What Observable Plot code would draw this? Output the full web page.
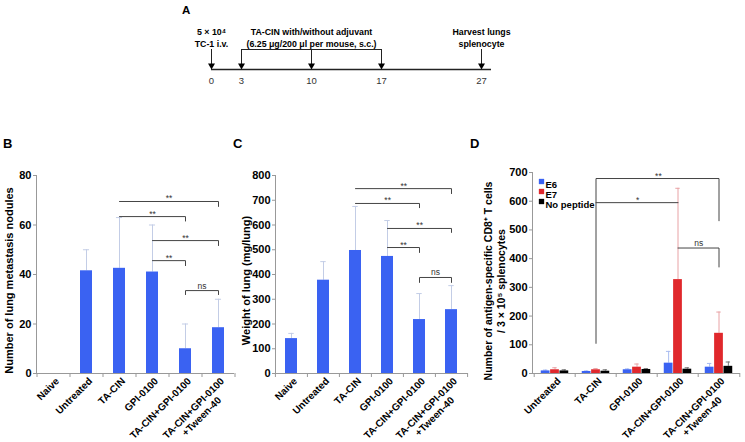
<!DOCTYPE html>
<html><head><meta charset="utf-8">
<script src="https://cdn.jsdelivr.net/npm/d3@7"></script>
<script src="https://cdn.jsdelivr.net/npm/@observablehq/plot@0.6"></script>
<style>
body{margin:0;background:#fff;}
#fig{position:relative;width:745px;height:442px;overflow:hidden;background:#fff;font-family:"Liberation Sans",Arial,Helvetica,sans-serif;}
.letter{position:absolute;font-weight:bold;font-size:13px;line-height:1;color:#000;}
</style></head><body><div id="fig"></div>
<script>
// ---------- Panel A: timeline ----------
const timelineDays = [0, 3, 10, 17, 27];
const timelineEnd = 28;
const injectionStart = 3, injectionEnd = 17;
const eventDays = [0, 10, 27];
const eventLabels = ["5 × 10⁴\nTC-1 i.v.", "TA-CIN with/without adjuvant\n(6.25 μg/200 μl per mouse, s.c.)", "Harvest lungs\nsplenocyte"];

// ---------- Panels B, C ----------
const groupsBC = ["Naive", "Untreated", "TA-CIN", "GPI-0100", "TA-CIN+GPI-0100", "TA-CIN+GPI-0100\n+Tween-40"];
const nodulesMean = [0, 41.5, 42.5, 41, 10, 18.5];
const nodulesSD = [0, 8.5, 20.5, 19, 10, 11.5];
const weightMean = [141, 377, 497, 473, 218, 258];
const weightSD = [21, 75, 178, 145, 105, 97];
const nodulesTicks = [0, 20, 40, 60, 80];
const weightTicks = [0, 100, 200, 300, 400, 500, 600, 700, 800];

const bracketsB = [
  {from: "TA-CIN", to: "TA-CIN+GPI-0100\n+Tween-40", y: 69.5, fromEnd: null, toEnd: 67.5, label: "**"},
  {from: "TA-CIN", to: "TA-CIN+GPI-0100", y: 63.4, fromEnd: null, toEnd: 61.6, label: "**"},
  {from: "GPI-0100", to: "TA-CIN+GPI-0100\n+Tween-40", y: 53.7, fromEnd: null, toEnd: 51.7, label: "**"},
  {from: "GPI-0100", to: "TA-CIN+GPI-0100", y: 45.6, fromEnd: null, toEnd: 43.6, label: "**"},
  {from: "TA-CIN+GPI-0100", to: "TA-CIN+GPI-0100\n+Tween-40", y: 33.5, fromEnd: 31.9, toEnd: 31.9, label: "ns"}
];
const bracketsC = [
  {from: "TA-CIN", to: "TA-CIN+GPI-0100\n+Tween-40", y: 747, fromEnd: null, toEnd: 727, label: "**"},
  {from: "TA-CIN", to: "TA-CIN+GPI-0100", y: 687, fromEnd: null, toEnd: 670, label: "**"},
  {from: "GPI-0100", to: "TA-CIN+GPI-0100\n+Tween-40", y: 586, fromEnd: null, toEnd: 570, label: "**"},
  {from: "GPI-0100", to: "TA-CIN+GPI-0100", y: 509, fromEnd: null, toEnd: 489, label: "**"},
  {from: "TA-CIN+GPI-0100", to: "TA-CIN+GPI-0100\n+Tween-40", y: 388, fromEnd: 368, toEnd: 368, label: "ns"}
];

// ---------- Panel D ----------
const groupsD = ["Untreated", "TA-CIN", "GPI-0100", "TA-CIN+GPI-0100", "TA-CIN+GPI-0100\n+Tween-40"];
const seriesD = ["E6", "E7", "No peptide"];
const e6Mean = [9, 7, 13, 36, 22];
const e6SD = [3, 2, 3, 41, 13];
const e7Mean = [13, 13, 22, 327, 140];
const e7SD = [7, 4, 11, 318, 74];
const noPeptideMean = [9, 8, 14, 15, 25];
const noPeptideSD = [4, 5, 3, 5, 15];
const cellTicks = [0, 100, 200, 300, 400, 500, 600, 700];
const bracketsD = [
  {from: "TA-CIN", to: "TA-CIN+GPI-0100\n+Tween-40", y: 679, fromEnd: 105, toEnd: 532, label: "**"},
  {from: "TA-CIN", to: "TA-CIN+GPI-0100", y: 595, fromEnd: null, toEnd: null, label: "*"},
  {from: "TA-CIN+GPI-0100", to: "TA-CIN+GPI-0100\n+Tween-40", y: 437, fromEnd: null, toEnd: 371, label: "ns"}
];

// ---------- styling ----------
const blue = "#3a62f2", red = "#e0282c", black = "#000000";
const seriesColors = [blue, red, black];
const errColorsD = ["#a9bcf0", "#e8a2a5", "#777777"];
const errColorBC = "#c3cde6";
const axisGray = "#999";
const font = "'Liberation Sans', Arial, Helvetica, sans-serif";
const baseStyle = {fontFamily: font, fontSize: "10px", background: "transparent", overflow: "visible", color: "#000"};
const tickFont = 10;

const fig = document.getElementById("fig");
function place(el, left, top) {
  el.style.position = "absolute"; el.style.left = left + "px"; el.style.top = top + "px";
  fig.appendChild(el);
}
function letter(t, left, top, size) {
  const d = document.createElement("div");
  d.className = "letter"; d.textContent = t; d.style.left = left + "px"; d.style.top = top + "px";
  if (size) d.style.fontSize = size + "px";
  fig.appendChild(d);
}
const measureCtx = document.createElement("canvas").getContext("2d");
function textWidth(s, size) {
  measureCtx.font = `bold ${size}px 'Liberation Sans', Arial, sans-serif`;
  return measureCtx.measureText(s).width;
}
function bracketPoints(brackets) {
  return brackets.flatMap((b, k) => {
    const pts = [];
    if (b.fromEnd != null) pts.push({id: k, x: b.from, y: b.fromEnd});
    pts.push({id: k, x: b.from, y: b.y}, {id: k, x: b.to, y: b.y});
    if (b.toEnd != null) pts.push({id: k, x: b.to, y: b.toEnd});
    return pts;
  });
}
function bracketMarks(brackets, groups, step) {
  const idx = g => groups.indexOf(g);
  return [
    Plot.line(bracketPoints(brackets), {x: "x", y: "y", z: "id", stroke: "#444", strokeWidth: 1}),
    ...brackets.map(b => Plot.text([b], {x: "from", y: "y", text: "label",
      dx: (idx(b.to) - idx(b.from)) * step / 2, lineAnchor: "bottom", dy: b.label === "ns" ? -2 : 0,
      fontSize: 8.5, fontWeight: "normal", fill: "#333"}))
  ];
}
function axisFrameMarks(groups, step) {
  return [
    Plot.ruleY([0], {stroke: axisGray}),
    Plot.frame({anchor: "left", stroke: axisGray}),
    Plot.ruleX(groups, {x: d => d, y1: 0, y2: 0, insetBottom: -4, dx: -step / 2, stroke: axisGray}),
    Plot.ruleX([groups[groups.length - 1]], {x: d => d, y1: 0, y2: 0, insetBottom: -4, dx: step / 2, stroke: axisGray})
  ];
}
// rotated category labels; a second line is centred under the first, as in the figure
function categoryLabelMarks(groups) {
  const c = Math.SQRT1_2, lh = tickFont * 1.15;
  const first = groups.map(g => ({g, t: g.split("\n")[0]}));
  const second = groups.filter(g => g.includes("\n")).map(g => ({g, t: g.split("\n")[1], w1: textWidth(g.split("\n")[0], tickFont)}));
  return [
    Plot.text(first, {x: "g", text: "t", frameAnchor: "bottom", rotate: -45, textAnchor: "end", lineAnchor: "middle",
      dx: 4, dy: 6, fontSize: tickFont, fontWeight: "bold"}),
    ...second.map(s => Plot.text([s], {x: "g", text: "t", frameAnchor: "bottom", rotate: -45, textAnchor: "middle", lineAnchor: "middle",
      dx: 4 - (s.w1 / 2) * c + lh * c, dy: 6 + (s.w1 / 2) * c + lh * c, fontSize: tickFont, fontWeight: "bold"}))
  ];
}

// ---------- Panel A ----------
const plotA = Plot.plot({
  width: 345, height: 95, marginLeft: 41, marginRight: 24, marginTop: 49, marginBottom: 26,
  style: baseStyle,
  x: {domain: [0, timelineEnd]},
  y: {domain: [0, 1], axis: null},
  marks: [
    Plot.ruleY([0], {x1: 0, x2: timelineEnd, strokeWidth: 1.3, stroke: "#222"}),
    Plot.ruleY([1], {x1: injectionStart, x2: injectionEnd, strokeWidth: 1, stroke: "#222"}),
    Plot.ruleX(timelineDays, {x: d => d, y1: 1, y2: 0, insetBottom: 5, stroke: "#222"}),
    Plot.dot(timelineDays, {x: d => d, y: 0, symbol: "triangle", rotate: 180, r: 2.6, fill: "#000", stroke: null, dy: -4}),
    Plot.text(eventDays, {x: d => d, y: 1, text: (d, i) => eventLabels[i], lineAnchor: "bottom", dy: -3,
      fontWeight: "bold", fontSize: 8.8, lineHeight: 1.35}),
    Plot.axisX({ticks: timelineDays, tickSize: 0, tickPadding: 8, label: null, fontSize: 9.5, tickFormat: d => d, fill: "#333"})
  ]
});
place(plotA, 170, 0);

// ---------- Panels B & C ----------
function barPanel({groups, means, sds, brackets, domain, ticks, title, width, marginLeft, marginRight, pad, titleDx, titleDy}) {
  const n = groups.length;
  const step = (width - marginLeft - marginRight) / n;
  const bw = step * (1 - pad);
  const rows = groups.map((g, i) => ({g, v: means[i], sd: sds[i]}));
  const errRows = rows.filter(r => r.sd > 0);
  return Plot.plot({
    width, height: 292, marginLeft, marginRight, marginTop: 25, marginBottom: 69,
    style: baseStyle,
    x: {domain: groups, paddingInner: pad, paddingOuter: pad / 2, axis: null},
    y: {domain},
    marks: [
      ...axisFrameMarks(groups, step),
      Plot.ruleX(errRows, {x: "g", y1: "v", y2: r => r.v + r.sd, stroke: errColorBC}),
      Plot.tickY(errRows, {x: "g", y: r => r.v + r.sd, stroke: errColorBC, insetLeft: (bw - 6) / 2, insetRight: (bw - 6) / 2}),
      Plot.barY(rows, {x: "g", y: "v", fill: blue}),
      ...bracketMarks(brackets, groups, step),
      Plot.axisY({ticks, tickSize: 3, tickPadding: 2, label: null, fontSize: 11, fontWeight: "bold", stroke: axisGray}),
      ...categoryLabelMarks(groups),
      Plot.text([title], {frameAnchor: "left", rotate: -90, textAnchor: "middle", lineAnchor: "middle", dx: titleDx, dy: titleDy, fontSize: 11, fontWeight: "bold"})
    ]
  });
}
const plotB = barPanel({groups: groupsBC, means: nodulesMean, sds: nodulesSD, brackets: bracketsB, domain: [0, 80], ticks: nodulesTicks,
  title: "Number of lung metastasis nodules", width: 250, marginLeft: 36, marginRight: 16, pad: 0.64, titleDx: -27, titleDy: 6});
place(plotB, 0, 150);
const plotC = barPanel({groups: groupsBC, means: weightMean, sds: weightSD, brackets: bracketsC, domain: [0, 800], ticks: weightTicks,
  title: "Weight of lung (mg/lung)", width: 250, marginLeft: 45, marginRight: 12, pad: 0.61, titleDx: -29, titleDy: 6});
place(plotC, 230, 150);

// ---------- Panel D ----------
(function () {
  const width = 275, marginLeft = 62, marginRight = 5;
  const step = (width - marginLeft - marginRight) / groupsD.length;
  const barW = step * 0.225;
  const means = [e6Mean, e7Mean, noPeptideMean];
  const sds = [e6SD, e7SD, noPeptideSD];
  const seriesMarks = seriesD.flatMap((s, i) => {
    const rows = groupsD.map((g, j) => ({g, v: means[i][j], sd: sds[i][j]}));
    const dx = (i - 1) * barW;
    return [
      Plot.ruleX(rows, {x: "g", y1: "v", y2: r => r.v + r.sd, dx, stroke: errColorsD[i]}),
      Plot.tickY(rows, {x: "g", y: r => r.v + r.sd, dx, stroke: errColorsD[i], insetLeft: (step - 5) / 2, insetRight: (step - 5) / 2}),
      Plot.barY(rows, {x: "g", y: "v", fill: seriesColors[i], insetLeft: (step - barW) / 2, insetRight: (step - barW) / 2, dx})
    ];
  });
  const legendMarks = seriesD.flatMap((s, i) => [
    Plot.dot([s], {frameAnchor: "top-left", dx: 9, dy: 9 + i * 10, symbol: "square", r: 3, fill: seriesColors[i], stroke: null}),
    Plot.text([s], {frameAnchor: "top-left", dx: 13, dy: 12 + i * 10, text: d => d, textAnchor: "start", lineAnchor: "middle", fontSize: 9.5, fontWeight: "bold"})
  ]);
  const plotD = Plot.plot({
    width, height: 292, marginLeft, marginRight, marginTop: 22, marginBottom: 69,
    style: baseStyle,
    x: {domain: groupsD, padding: 0, axis: null},
    y: {domain: [0, 700]},
    marks: [
      ...axisFrameMarks(groupsD, step),
      ...seriesMarks,
      ...bracketMarks(bracketsD, groupsD, step),
      ...legendMarks,
      Plot.axisY({ticks: cellTicks, tickSize: 3, tickPadding: 2, label: null, fontSize: 11, fontWeight: "bold", stroke: axisGray}),
      ...categoryLabelMarks(groupsD),
      Plot.text(["Number of antigen-specific CD8⁺ T cells\n/ 3 × 10⁵ splenocytes"], {frameAnchor: "left", rotate: -90, textAnchor: "middle", lineAnchor: "middle",
        dx: -38, dy: 8, fontSize: 10.5, fontWeight: "bold", lineHeight: 1.2})
    ]
  });
  place(plotD, 470, 150);
})();

letter("A", 182, 5, 11.5);
letter("B", 3, 137);
letter("C", 233, 137);
letter("D", 470, 137);
</script></body></html>
